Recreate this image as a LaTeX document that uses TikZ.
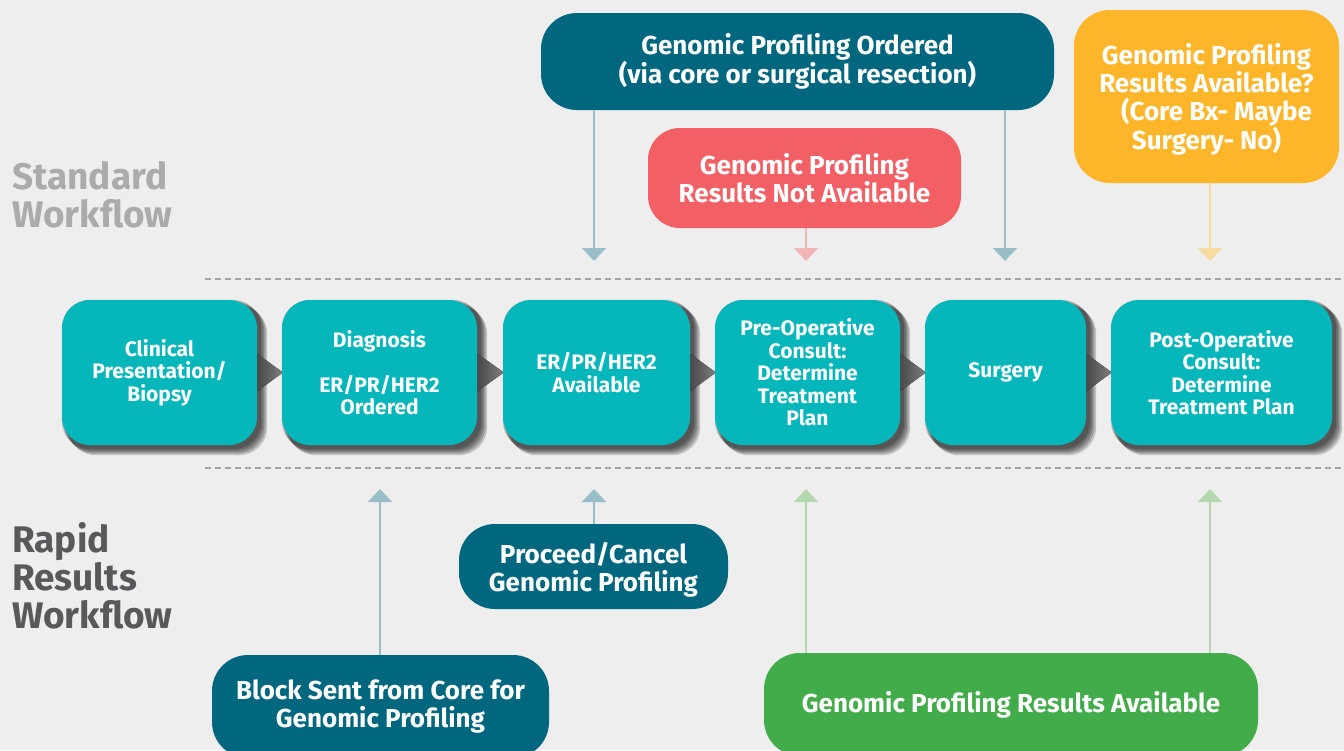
\documentclass[tikz,border=0pt]{standalone}
\usepackage{fontspec}
\setmainfont{Fira Sans}
\usetikzlibrary{arrows.meta}
\definecolor{bgc}{HTML}{EDEEED}
\definecolor{tealb}{HTML}{05B6BB}
\definecolor{navyb}{HTML}{00677F}
\definecolor{redb}{HTML}{F25F64}
\definecolor{orangeb}{HTML}{FDB62A}
\definecolor{greenb}{HTML}{43AC4A}
\definecolor{arrblue}{HTML}{98BEC8}
\definecolor{arrpink}{HTML}{F2B5B5}
\definecolor{arrorange}{HTML}{F6DA9E}
\definecolor{arrgreen}{HTML}{B3D8AE}
\definecolor{sepc}{HTML}{A5A5A5}
\definecolor{stdlab}{HTML}{ABABAB}
\definecolor{rapidlab}{HTML}{58595B}
\newcommand{\lowtext}[3]{\raisebox{-#1}[0pt][0pt]{\parbox[c]{#2}{\centering #3}}}
\pgfdeclarelayer{back}
\pgfdeclarelayer{mid}
\pgfsetlayers{back,mid,main}
\begin{document}
\begin{tikzpicture}[x=1pt,y=-1pt,
  mainbox/.style={fill=tealb, rounded corners=28pt, text=white, align=center, inner sep=0pt,
    font=\bfseries\fontsize{21}{22.5}\selectfont},
  sidebox/.style={rounded corners=32pt, text=white, align=center, inner sep=0pt,
    font=\bfseries\fontsize{26}{28}\selectfont},
  conn/.style={line width=2pt, -{Triangle[width=24pt,length=13pt]}},
  chev/.style={left color=black!80, right color=black!50},
  shad/.style={black, fill opacity=0.18},
  sepline/.style={sepc, line width=1.5pt, dash pattern=on 6pt off 4pt},
  wflab/.style={anchor=west, align=left, inner sep=0pt, font=\bfseries\fontsize{37}{38}\selectfont}]
\useasboundingbox (0,0) rectangle (1344,750);
\begin{pgfonlayer}{back}
\fill[bgc] (0,0) rectangle (1344,750);
\end{pgfonlayer}

% separators
\coordinate (s1a) at (205,279); \coordinate (s1b) at (1344,279);
\coordinate (s2a) at (205,468); \coordinate (s2b) at (1344,468);
\draw[sepline] (s1a) -- (s1b);
\draw[sepline] (s2a) -- (s2b);

% side labels
\node[wflab, text=stdlab] (std) at (12,195) {Standard\\Workflow};
\node[wflab, text=rapidlab] (rap) at (12,576) {Rapid\\Results\\Workflow};

% main row
\node[mainbox, minimum width=195pt, minimum height=145pt] (b1) at (159.5,372.5) {Clinical\\Presentation/\\Biopsy};
\node[mainbox, minimum width=195pt, minimum height=145pt] (b2) at (379.5,372.5) {Diagnosis\\[22.5pt]ER/PR/HER2\\Ordered};
\node[mainbox, minimum width=187pt, minimum height=145pt] (b3) at (596.5,372.5) {ER/PR/HER2\\Available};
\node[mainbox, minimum width=185pt, minimum height=145pt] (b4) at (807.5,372.5) {Pre-Operative\\Consult:\\Determine\\Treatment\\Plan};
\node[mainbox, minimum width=161pt, minimum height=145pt] (b5) at (1005.5,372.5) {Surgery};
\node[mainbox, minimum width=221pt, minimum height=145pt] (b6) at (1221.5,372.5) {Post-Operative\\Consult:\\Determine\\Treatment Plan};

% shadows and chevrons
\begin{pgfonlayer}{mid}
\foreach \a in {b1,b2,b3,b4,b5,b6}{
  \foreach \r in {0,1.5,3,4.5,6}{
    \fill[shad, rounded corners=28pt] ([shift={(\r,\r)}]\a.north west) rectangle ([shift={(4+\r,4+\r)}]\a.south east);
  }
}
\foreach \a/\b in {b1/b2,b2/b3,b3/b4,b4/b5,b5/b6}{
  \fill[chev] ([xshift=-10pt,yshift=26pt]\a.east) -- ([xshift=1pt]\b.west) -- ([xshift=-10pt,yshift=-26pt]\a.east) -- cycle;
}
\end{pgfonlayer}

% top boxes
\node[sidebox, fill=navyb, minimum width=513pt, minimum height=97pt, rounded corners=36pt] (gpo) at (797.5,61.5) {Genomic Profiling Ordered\\(via core or surgical resection)};
\node[sidebox, fill=redb, minimum width=313pt, minimum height=100pt] (gpn) at (804.5,178) {Genomic Profiling\\Results Not Available};
\node[sidebox, fill=orangeb, minimum width=265pt, minimum height=173pt, rounded corners=36pt] (gpq) at (1206.5,96.5) {\lowtext{9pt}{260pt}{Genomic Profiling\\Results Available?\\\hspace*{20pt}(Core Bx- Maybe\\Surgery- No)}};

% bottom boxes
\node[sidebox, fill=navyb, minimum width=269pt, minimum height=85pt, rounded corners=36pt] (pc) at (593.5,566.5) {\lowtext{9pt}{265pt}{Proceed/Cancel\\Genomic Profiling}};
\node[sidebox, fill=navyb, minimum width=337pt, minimum height=103pt, rounded corners=36pt] (bs) at (380.5,706.5) {Block Sent from Core for\\Genomic Profiling};
\node[sidebox, fill=greenb, minimum width=494pt, minimum height=103pt, rounded corners=36pt] (gra) at (1011,704.5) {Genomic Profiling Results Available};

% arrow targets
\coordinate (t1) at (594,261);
\coordinate (t2) at (1005,261);
\coordinate (t3) at (806,261);
\coordinate (t4) at (1210,261);
\coordinate (u1) at (380,489);
\coordinate (u2) at (594,489);
\coordinate (u3) at (806,489);
\coordinate (u4) at (1210,489);

\draw[conn, arrblue] (gpo.south -| t1) -- (t1);
\draw[conn, arrblue] (gpo.south -| t2) -- (t2);
\draw[conn, arrpink] (gpn.south -| t3) -- (t3);
\draw[conn, arrorange] (gpq.south -| t4) -- (t4);
\draw[conn, arrblue] (bs.north -| u1) -- (u1);
\draw[conn, arrblue] (pc.north -| u2) -- (u2);
\draw[conn, arrgreen] (gra.north -| u3) -- (u3);
\draw[conn, arrgreen] (gra.north -| u4) -- (u4);
\end{tikzpicture}
\end{document}
